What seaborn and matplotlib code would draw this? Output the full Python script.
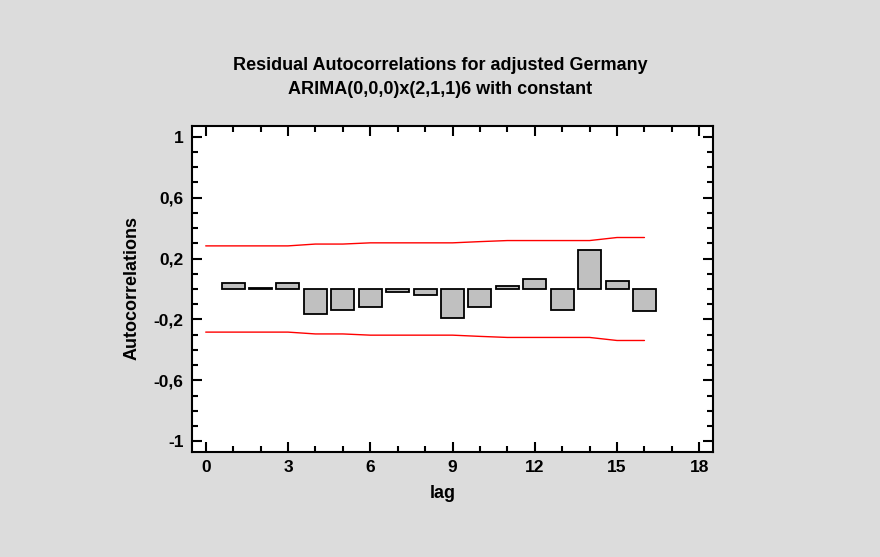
import matplotlib
matplotlib.use('Agg')
import matplotlib.pyplot as plt
import seaborn as sns
import numpy as np
import pandas as pd
from matplotlib.ticker import MultipleLocator, FuncFormatter

# residual autocorrelations
lags = list(range(1, 17))
acf = [0.037, 0.005, 0.037, -0.167, -0.138, -0.121, -0.020, -0.037,
       -0.192, -0.121, 0.020, 0.064, -0.138, 0.257, 0.055, -0.145]

# probability limits (upper; lower is mirrored)
limit_lags = list(range(0, 17))
upper_limit = [0.283, 0.283, 0.283, 0.283, 0.295, 0.295, 0.303, 0.303, 0.303,
               0.303, 0.311, 0.318, 0.318, 0.318, 0.318, 0.338, 0.338]
lower_limit = [-v for v in upper_limit]

sns.set_style('white')
plt.rcParams['font.family'] = ['Liberation Sans', 'DejaVu Sans']
plt.rcParams['font.weight'] = 'bold'
plt.rcParams['text.color'] = 'black'
plt.rcParams['xtick.color'] = 'black'
plt.rcParams['ytick.color'] = 'black'

fig = plt.figure(figsize=(8.8, 5.57), dpi=100)
fig.patch.set_facecolor('#DCDCDC')
ax = fig.add_axes([192 / 880, 1 - 452 / 557, (713 - 192) / 880, (452 - 126) / 557])
ax.set_facecolor('white')

bars = pd.DataFrame({'lag': lags, 'acf': acf})
sns.barplot(data=bars, x='lag', y='acf', native_scale=True, width=0.84,
            color='#C0C0C0', edgecolor='black', linewidth=1.3,
            saturation=1, ax=ax)

sns.lineplot(x=limit_lags, y=upper_limit, color='red', linewidth=1, ax=ax)
sns.lineplot(x=limit_lags, y=lower_limit, color='red', linewidth=1, ax=ax)

ax.set_xlim(-0.5, 18.5)
ax.set_ylim(-1.07, 1.07)
ax.xaxis.set_major_locator(MultipleLocator(3))
ax.xaxis.set_minor_locator(MultipleLocator(1))
ax.yaxis.set_minor_locator(MultipleLocator(0.1))
ax.set_yticks([-1, -0.6, -0.2, 0.2, 0.6, 1])
ax.yaxis.set_major_formatter(FuncFormatter(lambda v, p: ('%g' % round(v, 2)).replace('.', ',')))
ax.xaxis.set_major_formatter(FuncFormatter(lambda v, p: '%d' % v))

ax.tick_params(which='both', direction='in', top=True, right=True,
               bottom=True, left=True, color='black', labelcolor='black',
               labelsize=12.5, pad=6)
ax.tick_params(which='major', length=7, width=1.5)
ax.tick_params(which='minor', length=4, width=1.5)
for lbl in ax.get_xticklabels() + ax.get_yticklabels():
    lbl.set_fontweight('bold')
for s in ax.spines.values():
    s.set_visible(True)
    s.set_color('black')
    s.set_linewidth(1.5)

ax.set_xlabel('')
ax.set_ylabel('')
fig.text(443 / 880, 1 - 493 / 557, 'lag', ha='center', va='center',
         fontsize=13, fontweight='bold')
fig.text(132 / 880, 1 - 288 / 557, 'Autocorrelations', ha='center', va='center',
         rotation=90, fontsize=13, fontweight='bold')
fig.text(440 / 880, 1 - 65 / 557, 'Residual Autocorrelations for adjusted Germany',
         ha='center', va='center', fontsize=13, fontweight='bold')
fig.text(440 / 880, 1 - 90 / 557, 'ARIMA(0,0,0)x(2,1,1)6 with constant',
         ha='center', va='center', fontsize=13, fontweight='bold')

fig.savefig('out.png', dpi=100, facecolor=fig.get_facecolor())
